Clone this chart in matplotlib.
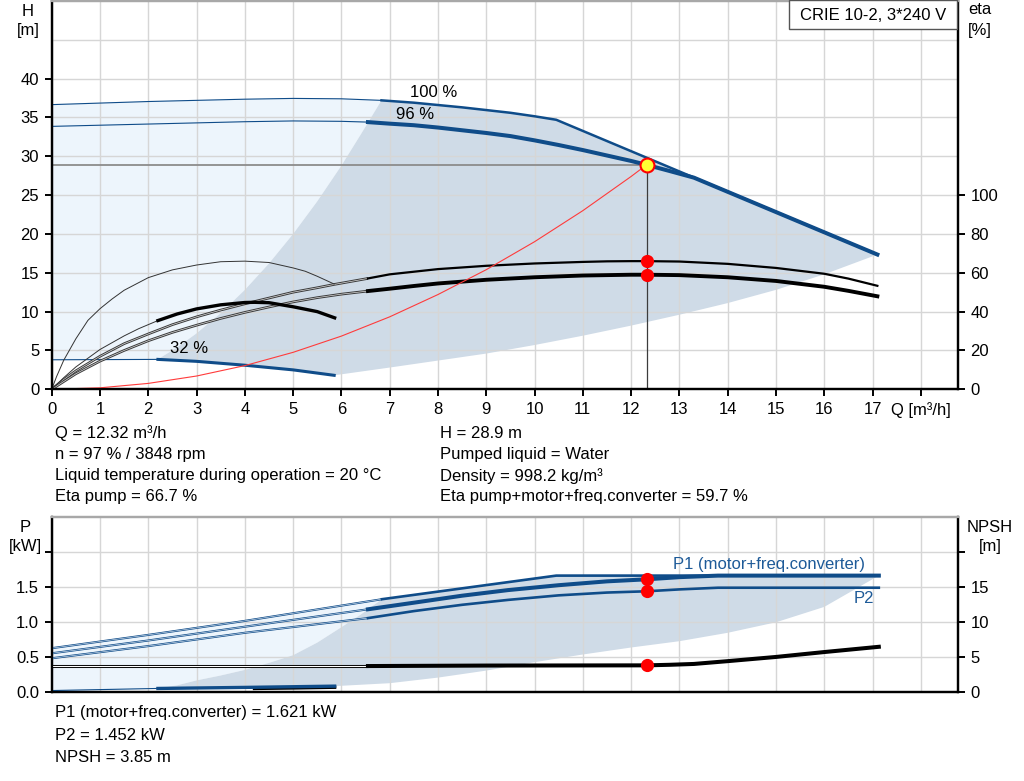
import matplotlib
matplotlib.use("Agg")
import matplotlib.pyplot as plt
import numpy as np

FS = 12
plt.rcParams['font.family'] = ['Liberation Sans', 'DejaVu Sans']
plt.rcParams['font.size'] = FS

# ---------------- data ----------------
# Head curves [Q m3/h, H m]
q100 = [0, 1, 2, 3, 4, 5, 6, 6.83, 7.5, 8, 8.5, 9, 9.5, 10, 10.45, 17.1]
h100 = [36.65, 36.85, 37.05, 37.2, 37.35, 37.45, 37.4, 37.2, 36.9, 36.6, 36.3,
        35.95, 35.6, 35.15, 34.7, 17.35]
q96 = [0, 2, 4, 5, 6, 6.55, 7, 7.5, 8, 8.5, 9, 9.5, 10, 10.5, 11, 11.5, 12, 12.32,
       12.8, 13.3, 17.1]
h96 = [33.85, 34.15, 34.45, 34.55, 34.5, 34.4, 34.2, 34.0, 33.7, 33.35, 33.0,
       32.6, 32.05, 31.45, 30.8, 30.1, 29.4, 28.9, 28.1, 27.25, 17.35]
q32 = [0, 2.2, 3, 4, 5, 5.85]
h32 = [3.8, 3.85, 3.6, 3.1, 2.5, 1.8]
# operating area boundaries
qmin = [2.2, 2.6, 3, 3.5, 4, 4.5, 5, 5.5, 6, 6.4, 6.83]
hmin = [3.87, 5.4, 7.2, 9.8, 12.8, 16.2, 20.0, 24.2, 28.8, 32.8, 37.2]
qmax = [5.85, 7, 8, 9, 10, 11, 12, 13, 14, 15, 16, 17.1]
hmax = [1.8, 2.8, 3.7, 4.6, 5.7, 6.9, 8.2, 9.6, 11.1, 12.8, 14.8, 17.35]
# system curve
qsys = [0, 1, 2, 3, 4, 5, 6, 7, 8, 9, 10, 11, 12, 12.32]
hsys = [0, 0.19, 0.76, 1.71, 3.05, 4.76, 6.85, 9.33, 12.2, 15.4, 19.0, 23.0, 27.4, 28.9]

# Efficiency curves [Q, eta %]
qe_pump = [6.55, 7, 8, 9, 10, 11, 11.5, 12, 12.32, 13, 14, 15, 16, 16.5, 17.1]
e_pump = [57.1, 59.2, 61.9, 63.6, 64.8, 65.6, 65.9, 66.0, 66.0, 65.8, 64.6, 62.5,
          59.5, 57.0, 53.3]
qe_tot = [6.55, 7, 7.5, 8, 9, 10, 11, 12, 12.32, 13, 14, 15, 16, 16.5, 17.1]
e_tot = [50.6, 51.8, 53.2, 54.5, 56.4, 57.7, 58.6, 59.0, 59.0, 58.8, 57.7, 55.8,
         52.8, 50.7, 47.9]
qe_pump_lo = [0, 0.25, 0.5, 1, 1.5, 2, 2.5, 3, 3.5, 4, 4.5, 5, 5.5, 5.85, 6.55]
e_pump_lo = [0, 5, 9.5, 17, 23.5, 28.5, 33.3, 37.3, 40.8, 44, 47, 50, 52.3, 54.0, 57.1]
qe_tot_lo = [0, 0.25, 0.5, 1, 1.5, 2, 2.5, 3, 3.5, 4, 4.5, 5, 5.5, 6, 6.55]
e_tot_lo = [0, 4, 8, 14.5, 20, 25, 29.3, 33, 36.5, 39.6, 42.4, 45, 47.2, 49, 50.6]
qe32_pump = [0, 0.1, 0.25, 0.5, 0.75, 1, 1.25, 1.5, 2, 2.5, 3, 3.5, 4, 4.5, 5,
             5.25, 5.5, 5.85]
e32_pump = [0, 6.5, 15, 26, 35.5, 41.5, 46.5, 51, 57.5, 61.5, 64, 65.7, 66.0, 65.3,
            62.5, 60.8, 58.2, 54.2]
qe32_tot_lo = [0, 0.25, 0.5, 1, 1.5, 1.8, 2.2]
e32_tot_lo = [0, 6, 11.5, 20.5, 27.5, 31.2, 35.4]
qe32_tot = [2.2, 2.6, 3, 3.5, 4, 4.2, 4.5, 5, 5.5, 5.86]
e32_tot = [35.4, 38.8, 41.4, 43.5, 44.7, 44.8, 44.6, 42.5, 40.0, 36.8]

# Power curves [Q, P kW]
qp1a = [0, 2, 4, 6.84, 10.45, 17.13]
p1a = [0.63, 0.82, 1.02, 1.33, 1.667, 1.667]
qp1b = [0, 2, 4, 6.55, 7.5, 8.5, 9.45, 10.5, 11.5, 12.32, 13, 13.8, 17.13]
p1b = [0.557, 0.74, 0.937, 1.186, 1.28, 1.38, 1.46, 1.53, 1.585, 1.614, 1.645,
       1.667, 1.667]
qp2 = [0, 2, 4, 6.55, 7.5, 8.5, 9.45, 10.5, 11.5, 12.32, 13, 13.8, 17.13]
p2 = [0.486, 0.66, 0.85, 1.06, 1.16, 1.25, 1.32, 1.385, 1.425, 1.443, 1.47,
      1.494, 1.494]
qp32 = [0, 2.2, 4, 5.86]
p32 = [0.025, 0.055, 0.07, 0.088]
qpmin = [2.2, 2.6, 3, 3.5, 4, 4.5, 5, 5.5, 6, 6.4, 6.84]
ppmin = [0.055, 0.1, 0.17, 0.24, 0.32, 0.42, 0.53, 0.71, 0.93, 1.11, 1.33]
qpmax = [5.86, 7, 8, 9, 10, 11, 12, 13, 14, 15, 16, 17.13]
ppmax = [0.088, 0.13, 0.21, 0.31, 0.43, 0.54, 0.64, 0.73, 0.85, 1.0, 1.22, 1.667]

# NPSH [Q, m]
qn_lo = [0, 6.55]
n_lo = [3.8, 3.8]
qn = [6.55, 9, 12.32, 12.8, 13.3, 14, 15, 16, 17.13]
npsh = [3.75, 3.82, 3.85, 3.93, 4.05, 4.45, 5.05, 5.75, 6.5]
qn32 = [4.2, 5, 5.86]
n32 = [0.55, 0.62, 0.72]

# duty point
Q_duty = 12.32
H_duty = 28.9
eta_pump_duty = 66.0
eta_tot_duty = 59.0
P1_duty = 1.614
P2_duty = 1.443
NPSH_duty = 3.85

x_ticks = list(range(0, 19))
x_labels = [str(i) for i in range(18)] + ['Q [m³/h]']
h_ticks = [0, 5, 10, 15, 20, 25, 30, 35, 40]
eta_ticks = [0, 20, 40, 60, 80, 100]
p_ticks = [0, 0.5, 1.0, 1.5, 2.0]
p_labels = ['0.0', '0.5', '1.0', '1.5', '']
n_ticks = [0, 5, 10, 15, 20]
n_labels = ['0', '5', '10', '15', '']

info_left = ['Q = 12.32 m³/h', 'n = 97 % / 3848 rpm',
             'Liquid temperature during operation = 20 °C', 'Eta pump = 66.7 %']
info_right = ['H = 28.9 m', 'Pumped liquid = Water', 'Density = 998.2 kg/m³',
              'Eta pump+motor+freq.converter = 59.7 %']
info_bottom = ['P1 (motor+freq.converter) = 1.621 kW', 'P2 = 1.452 kW', 'NPSH = 3.85 m']
title_box = 'CRIE 10-2, 3*240 V'

# ---------------- style ----------------
BLUE = '#0f4c89'
LIGHT = '#edf5fc'
DARK = '#cfdbe7'
GRID = '#d6d6d6'
TOPSPINE = '#a8a8a8'


def arr(a):
    return np.asarray(a, dtype=float)


def split(q, v, qs):
    q, v = arr(q), arr(v)
    lo = q <= qs + 1e-9
    hi = q >= qs - 1e-9
    return (q[lo], v[lo]), (q[hi], v[hi])


def style_axes(a):
    for s in ['left', 'right', 'bottom']:
        a.spines[s].set_color('black')
        a.spines[s].set_linewidth(1.6)
    a.spines['top'].set_color(TOPSPINE)
    a.spines['top'].set_linewidth(1.6)
    a.tick_params(direction='out', length=5, width=1.4, pad=4, labelsize=FS)


def double_line(a, q, v, color, w_out=2.0, w_in=0.6, core='#e8e8e8', **kw):
    a.plot(q, v, color=color, lw=w_out, solid_capstyle='butt',
           solid_joinstyle='round', **kw)
    a.plot(q, v, color=core, lw=w_in, solid_capstyle='butt',
           solid_joinstyle='round', **kw)


fig = plt.figure(figsize=(10.24, 7.81), dpi=100)
L = 51.7 / 1024
R = 958 / 1024
W = R - L

# ================= top chart =================
ax = fig.add_axes([L, 1 - 389.3 / 781, W, 389.3 / 781 - 0.0012])
ax.set_xlim(0, 18.77)
ax.set_ylim(0, 50)
style_axes(ax)
ax.set_xticks(x_ticks)
ax.set_xticklabels(x_labels)
ax.set_yticks(h_ticks)
ax.set_yticks([45], minor=True)
ax.tick_params(which='minor', length=0)
ax.grid(True, which='both', color=GRID, lw=1.0)

(q100a, h100a), (q100b, h100b) = split(q100, h100, 6.83)
(q96a, h96a), (q96b, h96b) = split(q96, h96, 6.55)
(q32a, h32a), (q32b, h32b) = split(q32, h32, 2.2)

# light area
lx = np.concatenate([q100a, arr(qmin)[::-1], q32a[::-1]])
ly = np.concatenate([h100a, arr(hmin)[::-1], h32a[::-1]])
ax.fill(lx, ly, color=LIGHT, lw=0, zorder=0.3)
# dark area
dx = np.concatenate([arr(qmin), q100b, arr(qmax)[::-1], q32b[::-1]])
dy = np.concatenate([arr(hmin), h100b, arr(hmax)[::-1], h32b[::-1]])
ax.fill(dx, dy, color=DARK, lw=0, zorder=0.4)

# head curves
ax.plot(q100a, h100a, color=BLUE, lw=0.8, zorder=3)
ax.plot(q100b, h100b, color=BLUE, lw=1.8, zorder=3, solid_joinstyle='round')
ax.plot(q96a, h96a, color=BLUE, lw=0.8, zorder=3)
ax.plot(q96b, h96b, color=BLUE, lw=2.9, zorder=3, solid_joinstyle='round')
ax.plot(q32a, h32a, color=BLUE, lw=0.8, zorder=3)
ax.plot(q32b, h32b, color=BLUE, lw=2.2, zorder=3)

# duty lines
ax.plot([0, Q_duty], [H_duty, H_duty], color='#8c8c8c', lw=1.3, zorder=2.5)
ax.plot([Q_duty, Q_duty], [0, H_duty], color='#3c3c3c', lw=0.9, zorder=2.5)

ax.text(7.9, 38.2, '100 %', ha='center', va='center', fontsize=FS)
ax.text(7.52, 35.4, '96 %', ha='center', va='center', fontsize=FS)
ax.text(2.84, 5.2, '32 %', ha='center', va='center', fontsize=FS)

# efficiency axis
ax2 = ax.twinx()
ax2.set_ylim(0, 200)
style_axes(ax2)
ax2.set_yticks(eta_ticks)

double_line(ax2, qe_pump_lo, e_pump_lo, '#3a3a3a', 1.9, 0.5, '#dcdcdc')
double_line(ax2, qe_tot_lo, e_tot_lo, '#3a3a3a', 1.9, 0.5, '#dcdcdc')
ax2.plot(qe32_pump, e32_pump, color='#333333', lw=0.7)
ax2.plot(qe32_tot_lo, e32_tot_lo, color='#333333', lw=0.7)
ax2.plot(qe32_tot, e32_tot, color='black', lw=2.4, solid_joinstyle='round')
ax2.plot(qe_pump, e_pump, color='black', lw=1.6, solid_joinstyle='round')
ax2.plot(qe_tot, e_tot, color='black', lw=2.8, solid_joinstyle='round')

# system curve and duty markers (in head units, drawn above)
ax2.plot(qsys, hsys, color='#ff3b3b', lw=0.8, transform=ax.transData)
ax2.plot([Q_duty], [eta_pump_duty], 'o', color='#ff0000', ms=9.5, mec='none')
ax2.plot([Q_duty], [eta_tot_duty], 'o', color='#ff0000', ms=9.5, mec='none')
ax2.plot([Q_duty], [H_duty], 'o', mfc='#ffff33', mec='#ff0000', mew=1.5, ms=10,
         transform=ax.transData)

# ================= bottom chart =================
bx = fig.add_axes([L, 1 - 692.3 / 781, W, 175 / 781])
bx.set_xlim(0, 18.77)
bx.set_ylim(0, 2.5)
style_axes(bx)
bx.set_xticks(x_ticks)
bx.set_xticklabels([])
bx.tick_params(axis='x', length=0)
bx.set_yticks(p_ticks)
bx.set_yticklabels(p_labels)
bx.grid(True, color=GRID, lw=1.0)

(qp1aa, p1aa), (qp1ab, p1ab) = split(qp1a, p1a, 6.84)
(qp1ba, p1ba), (qp1bb, p1bb) = split(qp1b, p1b, 6.55)
(qp2a, p2a), (qp2b, p2b) = split(qp2, p2, 6.55)
(qp32a, p32a), (qp32b, p32b) = split(qp32, p32, 2.2)

lx = np.concatenate([qp1aa, arr(qpmin)[::-1], qp32a[::-1]])
ly = np.concatenate([p1aa, arr(ppmin)[::-1], p32a[::-1]])
bx.fill(lx, ly, color=LIGHT, lw=0, zorder=0.3)
dx = np.concatenate([arr(qpmin), qp1ab, arr(qpmax)[::-1], qp32b[::-1]])
dy = np.concatenate([arr(ppmin), p1ab, arr(ppmax)[::-1], p32b[::-1]])
bx.fill(dx, dy, color=DARK, lw=0, zorder=0.4)

double_line(bx, qp1aa, p1aa, BLUE, 1.5, 0.45, '#dfe9f4', zorder=3)
double_line(bx, qp1ba, p1ba, BLUE, 1.5, 0.45, '#dfe9f4', zorder=3)
double_line(bx, qp2a, p2a, BLUE, 1.5, 0.45, '#dfe9f4', zorder=3)
bx.plot(qp1ab, p1ab, color=BLUE, lw=1.9, zorder=3, solid_joinstyle='round')
bx.plot(qp1bb, p1bb, color=BLUE, lw=2.9, zorder=3, solid_joinstyle='round')
bx.plot(qp2b, p2b, color=BLUE, lw=1.9, zorder=3, solid_joinstyle='round')

bx.text(14.85, 1.82, 'P1 (motor+freq.converter)', ha='center', va='center',
        color='#1d5a98', fontsize=FS)
bx.text(16.82, 1.333, 'P2', ha='center', va='center', color='#1d5a98', fontsize=FS)

bx2 = bx.twinx()
bx2.set_ylim(0, 25)
style_axes(bx2)
bx2.set_yticks(n_ticks)
bx2.set_yticklabels(n_labels)

double_line(bx2, qn_lo, n_lo, 'black', 2.2, 0.8, '#ffffff')
bx2.plot(qn, npsh, color='black', lw=2.9, solid_joinstyle='round')
bx2.plot(qn32, n32, color='black', lw=2.4)
bx2.plot(qp32a, p32a, color=BLUE, lw=0.8, transform=bx.transData)
bx2.plot(qp32b, p32b, color=BLUE, lw=2.4, transform=bx.transData)
bx2.plot([Q_duty], [NPSH_duty], 'o', color='#ff0000', ms=9.5, mec='none')
bx2.plot([Q_duty, Q_duty], [P1_duty, P2_duty], 'o', color='#ff0000', ms=9.5,
         mec='none', ls='none', transform=bx.transData)

# ================= texts =================
fig.text(28 / 1024, 1 - 11 / 781, 'H', ha='center', va='center', fontsize=FS)
fig.text(28 / 1024, 1 - 30 / 781, '[m]', ha='center', va='center', fontsize=FS)
fig.text(980 / 1024, 1 - 10 / 781, 'eta', ha='center', va='center', fontsize=FS)
fig.text(980 / 1024, 1 - 30 / 781, '[%]', ha='center', va='center', fontsize=FS)
fig.text(25 / 1024, 1 - 528 / 781, 'P', ha='center', va='center', fontsize=FS)
fig.text(25 / 1024, 1 - 547 / 781, '[kW]', ha='center', va='center', fontsize=FS)
fig.text(990 / 1024, 1 - 528 / 781, 'NPSH', ha='center', va='center', fontsize=FS)
fig.text(990 / 1024, 1 - 547 / 781, '[m]', ha='center', va='center', fontsize=FS)

rows_top = [433, 454, 476, 497]
for s, yy in zip(info_left, rows_top):
    fig.text(55 / 1024, 1 - yy / 781, s, ha='left', va='center', fontsize=FS)
for s, yy in zip(info_right, rows_top):
    fig.text(440 / 1024, 1 - yy / 781, s, ha='left', va='center', fontsize=FS)
for s, yy in zip(info_bottom, [713, 735, 757]):
    fig.text(55 / 1024, 1 - yy / 781, s, ha='left', va='center', fontsize=FS)

# title box
bx0, bx1 = 789 / 1024, 957 / 1024
by0 = 1 - 28.5 / 781
rect = plt.Rectangle((bx0, by0), bx1 - bx0, 1 - by0, transform=fig.transFigure,
                     facecolor='white', edgecolor='#555555', lw=1.0, zorder=10)
fig.add_artist(rect)
fig.text((bx0 + bx1) / 2, 1 - 15 / 781, title_box, ha='center', va='center',
         fontsize=FS, zorder=11)

fig.savefig('out.png', dpi=100)
